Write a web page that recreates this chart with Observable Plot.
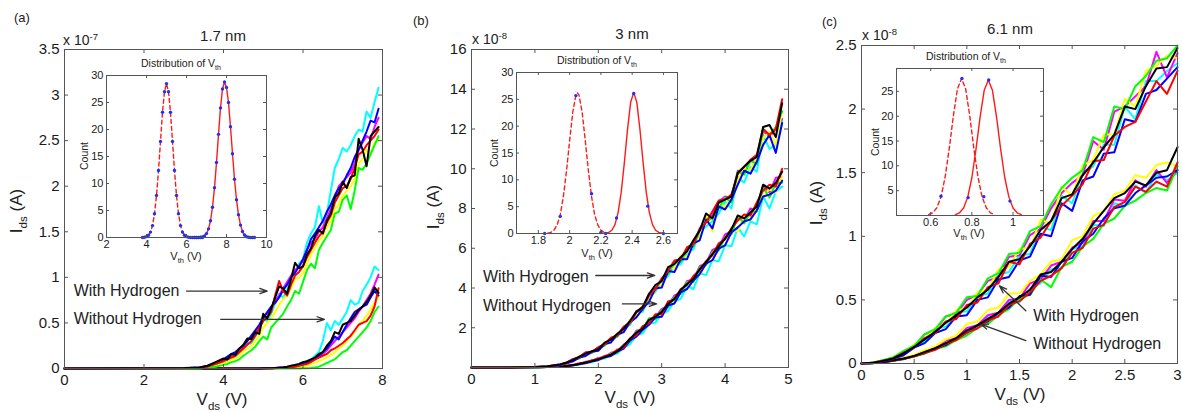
<!DOCTYPE html>
<html><head><meta charset="utf-8">
<script src="https://cdn.jsdelivr.net/npm/d3@7"></script>
<script src="https://cdn.jsdelivr.net/npm/@observablehq/plot@0.6"></script>
<style>
html,body{margin:0;padding:0;background:#fff;}
#fig{position:relative;width:1182px;height:412px;overflow:hidden;background:#fff;font-family:"Liberation Sans",Arial,Helvetica,sans-serif;color:#222;}
.lbl{position:absolute;white-space:nowrap;line-height:1;transform:translate(-50%,-50%);}
.rot{transform:translate(-50%,-50%) rotate(-90deg);}
.lft{transform:translate(0,-50%);}
.sb{font-size:0.68em;position:relative;top:0.4em;}
.sp{font-size:0.68em;position:relative;top:-0.55em;}
</style></head><body><div id="fig"></div>
<script>
// ---------- Panel (a) 1.7 nm, values in units of 1e-7 A ----------
const xA = [0, 3.0, 3.4, 3.6, 3.8, 4.0, 4.1, 4.2, 4.3, 4.4, 4.5, 4.6, 4.7, 4.8, 4.9, 5.0, 5.1, 5.2, 5.3, 5.4, 5.5, 5.6, 5.7, 5.8, 5.9, 6.0, 6.1, 6.2, 6.3, 6.4, 6.5, 6.6, 6.7, 6.8, 6.9, 7.0, 7.1, 7.2, 7.3, 7.4, 7.5, 7.6, 7.7, 7.8, 7.9];
const aWith = {
  cyan:    [0, 0.003, 0.01, 0.02, 0.05, 0.08,0.09,0.12,0.13,0.16,0.22,0.28,0.27,0.35,0.42, 0.55,0.52,0.60,0.72,0.82,0.78,0.86,1.00,1.05,1.15, 1.20,1.38,1.48,1.55,1.78,1.60,1.70,1.95,2.20,2.30, 2.42,2.38,2.45,2.55,2.62,2.60,2.82,2.75,2.92,3.08],
  magenta: [0, 0.004, 0.01, 0.02, 0.06, 0.09,0.11,0.13,0.17,0.20,0.25,0.32,0.34,0.40,0.46, 0.58,0.60,0.66,0.75,0.80,0.88,0.95,1.02,1.08,1.12, 1.18,1.30,1.38,1.42,1.50,1.55,1.65,1.75,1.85,2.00, 2.05,2.10,2.15,2.25,2.40,2.48,2.55,2.52,2.65,2.75],
  yellow:  [0, 0.002, 0.006, 0.015, 0.04, 0.06,0.07,0.10,0.11,0.14,0.19,0.22,0.25,0.30,0.36, 0.45,0.50,0.55,0.62,0.70,0.76,0.80,0.88,0.98,1.00, 1.05,1.15,1.25,1.32,1.40,1.45,1.55,1.62,1.75,1.80, 1.90,1.95,2.00,2.08,2.25,2.30,2.40,2.35,2.48,2.50],
  green:   [0, 0, 0, 0.01, 0.02, 0.04,0.05,0.07,0.08,0.10,0.14,0.17,0.20,0.24,0.30, 0.35,0.32,0.45,0.50,0.55,0.60,0.68,0.75,0.85,0.82, 0.95,1.08,1.15,1.10,1.30,1.38,1.45,1.52,1.70,1.72, 1.85,1.90,1.75,1.95,2.20,2.18,2.25,2.35,2.45,2.55],
  blue:    [0, 0.004, 0.01, 0.03, 0.06, 0.10,0.13,0.16,0.18,0.22,0.25,0.30,0.36,0.42,0.48, 0.55,0.62,0.68,0.72,0.78,0.86,0.92,1.00,1.05,1.12, 1.20,1.30,1.42,1.48,1.55,1.62,1.72,1.80,1.90,1.98, 2.02,2.12,2.20,2.32,2.40,2.50,2.60,2.72,2.70,2.85],
  red:     [0, 0.003, 0.008, 0.02, 0.05, 0.08,0.10,0.12,0.14,0.18,0.22,0.26,0.30,0.36,0.45, 0.52,0.56,0.62,0.80,0.96,0.85,0.80,0.92,1.02,1.06, 1.12,1.22,1.30,1.38,1.45,1.50,1.60,1.68,1.82,1.90, 1.98,2.00,2.08,2.20,2.35,2.38,2.45,2.50,2.55,2.62],
  black:   [0, 0.005, 0.01, 0.03, 0.07, 0.11,0.10,0.16,0.15,0.22,0.26,0.33,0.32,0.40,0.38, 0.60,0.55,0.66,0.78,0.90,0.88,0.82,0.98,1.16,1.10, 1.12,1.25,1.32,1.45,1.52,1.48,1.62,1.70,1.88,1.92, 2.05,1.98,2.10,2.12,2.52,2.40,2.22,2.55,2.60,2.65]
};
const aWithout = {
  cyan:    [0,0,0,0,0, 0,0,0,0,0,0,0,0,0,0, 0.002, 0.003,0.005,0.007,0.01,0.015,0.02,0.03,0.04,0.05,0.06, 0.08,0.10,0.14,0.18,0.30,0.50,0.42,0.52,0.48,0.55, 0.62,0.75,0.70,0.72,0.85,0.92,1.00,1.12,1.08],
  magenta: [0,0,0,0,0, 0,0,0,0,0,0,0,0,0,0, 0.001, 0.002,0.004,0.006,0.01,0.012,0.015,0.018,0.02,0.03,0.04, 0.06,0.08,0.10,0.13,0.16,0.20,0.25,0.30,0.35,0.40, 0.45,0.50,0.55,0.62,0.68,0.75,0.82,0.92,1.03],
  yellow:  [0,0,0,0,0, 0,0,0,0,0,0,0,0,0,0, 0, 0.001,0.002,0.003,0.004,0.006,0.008,0.01,0.012,0.015,0.02, 0.03,0.05,0.06,0.08,0.10,0.12,0.15,0.18,0.22,0.25, 0.30,0.35,0.40,0.48,0.52,0.58,0.65,0.72,0.78],
  green:   [0,0,0,0,0, 0,0,0,0,0,0,0,0,0,0, 0, 0,0,0,0,0,0,0,0,0.001,0.002, 0.003,0.005,0.01,0.02,0.04,0.06,0.08,0.10,0.14,0.18, 0.20,0.25,0.30,0.35,0.40,0.45,0.52,0.62,0.68],
  blue:    [0,0,0,0,0, 0,0,0,0,0,0,0,0,0,0, 0.001, 0.002,0.004,0.006,0.008,0.01,0.015,0.02,0.03,0.04,0.05, 0.06,0.08,0.10,0.14,0.18,0.22,0.28,0.35,0.32,0.40, 0.48,0.55,0.62,0.65,0.68,0.70,0.78,0.85,0.80],
  red:     [0,0,0,0,0, 0,0,0,0,0,0,0,0,0,0, 0.001, 0.002,0.003,0.004,0.006,0.008,0.01,0.015,0.02,0.03,0.04, 0.05,0.07,0.10,0.12,0.14,0.16,0.20,0.22,0.25,0.28, 0.32,0.36,0.42,0.48,0.50,0.52,0.58,0.68,0.88],
  black:   [0,0,0,0,0, 0,0,0,0,0,0,0,0,0,0, 0.002, 0.003,0.004,0.006,0.008,0.012,0.02,0.03,0.04,0.05,0.07, 0.08,0.10,0.12,0.16,0.18,0.25,0.30,0.40,0.38,0.48, 0.50,0.52,0.58,0.64,0.68,0.73,0.80,0.89,0.83]
};
const xTicksA = [0, 2, 4, 6, 8];
const yTicksA = [0, 0.5, 1, 1.5, 2, 2.5, 3, 3.5];
const notesA = [{label: "With Hydrogen", x: 0.23, y: 0.855}, {label: "Without Hydrogen", x: 0.23, y: 0.545}];
const arrowsA = [{x1: 3.07, y1: 0.85, x2: 5.1, y2: 0.85}, {x1: 3.93, y1: 0.54, x2: 6.54, y2: 0.54}];

// ---------- Panel (b) 3 nm, values in units of 1e-8 A ----------
const xB = [0, 0.6, 1.0, 1.2, 1.4, 1.5, 1.6, 1.7, 1.8, 1.9, 2.0, 2.1, 2.2, 2.3, 2.4, 2.5, 2.6, 2.7, 2.8, 2.9, 3.0, 3.1, 3.2, 3.3, 3.4, 3.5, 3.6, 3.7, 3.8, 3.9, 4.0, 4.1, 4.2, 4.3, 4.4, 4.5, 4.6, 4.7, 4.8, 4.9];
const bWith = {
  cyan:    [0, 0.001, 0.015, 0.05, 0.13, 0.22, 0.38, 0.46, 0.66, 0.74, 0.95, 1.10, 1.42, 1.55, 1.98, 2.15, 2.75, 2.80, 3.55, 3.80, 4.35, 4.60, 5.15, 5.20, 5.75, 5.95, 6.80, 7.10, 7.35, 7.75, 8.35, 8.00, 9.60, 9.30, 10.10, 9.85, 11.70, 11.00, 11.20, 12.40],
  magenta: [0, 0.002, 0.02, 0.06, 0.16, 0.24, 0.42, 0.52, 0.76, 0.80, 1.00, 1.18, 1.48, 1.62, 2.05, 2.25, 2.85, 2.92, 3.72, 3.95, 4.45, 4.82, 5.32, 5.40, 5.95, 6.20, 7.00, 7.40, 7.65, 8.35, 8.60, 8.50, 9.90, 9.75, 10.45, 10.30, 11.90, 11.60, 12.00, 12.50],
  yellow:  [0, 0.002, 0.018, 0.05, 0.13, 0.25, 0.35, 0.55, 0.64, 0.84, 0.90, 1.25, 1.35, 1.72, 1.88, 2.38, 2.62, 3.10, 3.45, 4.15, 4.15, 5.00, 5.00, 5.65, 5.55, 6.35, 6.55, 7.65, 6.85, 8.35, 8.05, 8.60, 9.45, 10.00, 9.95, 10.55, 11.55, 11.85, 11.20, 12.90],
  green:   [0, 0.002, 0.015, 0.05, 0.14, 0.20, 0.39, 0.47, 0.70, 0.74, 0.99, 1.12, 1.44, 1.56, 1.99, 2.20, 2.80, 2.88, 3.62, 3.90, 4.40, 4.72, 5.28, 5.30, 5.95, 6.10, 6.90, 7.30, 7.55, 8.00, 8.55, 8.30, 9.85, 9.70, 10.40, 10.25, 12.00, 11.70, 12.10, 12.90],
  blue:    [0, 0.001, 0.015, 0.04, 0.11, 0.21, 0.31, 0.50, 0.58, 0.79, 0.84, 1.18, 1.26, 1.65, 1.78, 2.28, 2.52, 2.95, 3.30, 3.98, 4.02, 4.85, 4.80, 5.45, 5.45, 6.25, 6.40, 7.45, 7.00, 8.10, 7.95, 8.45, 9.20, 9.90, 9.75, 10.35, 11.20, 11.70, 10.80, 12.30],
  red:     [0, 0.002, 0.02, 0.05, 0.15, 0.23, 0.42, 0.50, 0.75, 0.78, 1.02, 1.16, 1.50, 1.60, 2.05, 2.25, 2.78, 3.02, 3.62, 3.95, 4.48, 4.85, 5.38, 5.45, 6.05, 6.20, 6.95, 7.30, 7.85, 8.40, 8.45, 8.70, 9.75, 10.10, 10.45, 10.70, 12.00, 11.70, 12.00, 13.50],
  black:   [0, 0.002, 0.02, 0.06, 0.15, 0.25, 0.38, 0.55, 0.70, 0.82, 0.92, 1.25, 1.40, 1.70, 1.95, 2.35, 2.80, 3.05, 3.70, 4.15, 4.35, 5.05, 5.20, 5.55, 5.85, 6.40, 6.90, 7.75, 7.50, 8.30, 8.45, 8.60, 9.80, 10.10, 10.40, 10.60, 12.10, 12.20, 11.60, 13.30]
};
const bWithout = {
  cyan:    [0, 0.001, 0.008, 0.02, 0.04, 0.06, 0.12, 0.14, 0.24, 0.26, 0.40, 0.45, 0.64, 0.70, 1.00, 1.18, 1.62, 1.72, 2.22, 2.25, 2.70, 2.85, 3.32, 3.45, 4.10, 3.95, 4.75, 4.65, 5.40, 5.35, 6.15, 6.10, 7.05, 6.60, 7.35, 7.20, 8.60, 8.00, 8.85, 9.10],
  magenta: [0, 0.001, 0.01, 0.02, 0.06, 0.08, 0.14, 0.18, 0.29, 0.33, 0.48, 0.52, 0.74, 0.82, 1.15, 1.35, 1.85, 1.92, 2.45, 2.52, 2.95, 3.08, 3.62, 3.78, 4.35, 4.42, 5.10, 5.25, 5.92, 6.05, 6.70, 6.85, 7.55, 7.40, 8.00, 7.90, 9.15, 8.80, 9.55, 9.60],
  yellow:  [0, 0.001, 0.009, 0.02, 0.05, 0.09, 0.11, 0.19, 0.22, 0.34, 0.38, 0.56, 0.60, 0.86, 0.98, 1.42, 1.58, 2.02, 2.18, 2.62, 2.58, 3.22, 3.25, 3.90, 3.95, 4.45, 4.65, 5.38, 5.35, 6.15, 6.10, 7.00, 6.85, 7.55, 7.40, 8.10, 8.55, 9.00, 8.80, 9.60],
  green:   [0, 0.001, 0.008, 0.02, 0.05, 0.07, 0.13, 0.17, 0.27, 0.31, 0.45, 0.50, 0.70, 0.76, 1.12, 1.30, 1.80, 1.88, 2.48, 2.42, 2.88, 3.05, 3.55, 3.70, 4.30, 4.30, 5.05, 5.15, 5.80, 5.90, 6.55, 6.70, 7.60, 7.25, 7.85, 7.85, 9.05, 8.55, 9.25, 9.30],
  blue:    [0, 0.001, 0.008, 0.02, 0.04, 0.07, 0.10, 0.17, 0.21, 0.31, 0.37, 0.52, 0.58, 0.80, 0.95, 1.36, 1.55, 1.90, 2.15, 2.52, 2.55, 3.12, 3.22, 3.78, 3.95, 4.38, 4.70, 5.22, 5.40, 5.98, 6.15, 6.80, 7.05, 7.35, 7.45, 7.90, 8.60, 8.70, 8.90, 9.40],
  red:     [0, 0.001, 0.01, 0.02, 0.05, 0.09, 0.12, 0.21, 0.24, 0.37, 0.41, 0.58, 0.64, 0.90, 1.00, 1.46, 1.62, 2.08, 2.22, 2.68, 2.68, 3.32, 3.42, 3.95, 4.15, 4.60, 4.90, 5.35, 5.65, 6.25, 6.45, 7.00, 7.40, 7.70, 7.65, 8.30, 8.90, 9.20, 9.10, 10.00],
  black:   [0, 0.001, 0.01, 0.02, 0.05, 0.08, 0.12, 0.18, 0.25, 0.32, 0.42, 0.52, 0.65, 0.82, 1.10, 1.45, 1.75, 1.95, 2.40, 2.55, 2.80, 3.20, 3.45, 3.90, 4.20, 4.45, 4.95, 5.30, 5.70, 6.10, 6.50, 6.95, 7.65, 7.50, 7.80, 8.10, 9.20, 9.00, 9.30, 9.85]
};
const xTicksB = [0, 1, 2, 3, 4, 5];
const yTicksB = [2, 4, 6, 8, 10, 12, 14, 16];
const notesB = [{label: "With Hydrogen", x: 0.18, y: 4.58}, {label: "Without Hydrogen", x: 0.18, y: 3.12}];
const arrowsB = [{x1: 1.96, y1: 4.63, x2: 2.89, y2: 4.63}, {x1: 2.38, y1: 3.2, x2: 2.92, y2: 3.2}];

// ---------- Panel (c) 6.1 nm, values in units of 1e-8 A ----------
const xC = [0, 0.1, 0.2, 0.3, 0.4, 0.5, 0.6, 0.7, 0.8, 0.9, 1.0, 1.1, 1.2, 1.3, 1.4, 1.5, 1.6, 1.7, 1.8, 1.9, 2.0, 2.1, 2.2, 2.3, 2.4, 2.5, 2.6, 2.7, 2.8, 2.9, 3.0];
const cWith = {
  cyan:    [0, 0.004, 0.018, 0.045, 0.075, 0.14, 0.17, 0.27, 0.29, 0.40, 0.41, 0.53, 0.55, 0.70, 0.72, 0.85, 0.86, 1.07, 1.05, 1.32, 1.26, 1.50, 1.55, 1.72, 1.72, 2.02, 1.92, 2.22, 2.22, 2.30, 2.36],
  magenta: [0, 0.005, 0.024, 0.043, 0.095, 0.13, 0.23, 0.26, 0.37, 0.39, 0.50, 0.54, 0.65, 0.68, 0.84, 0.85, 1.01, 1.06, 1.22, 1.34, 1.42, 1.48, 1.75, 1.68, 1.98, 2.02, 2.10, 2.18, 2.45, 2.25, 2.44],
  yellow:  [0, 0.005, 0.02, 0.05, 0.08, 0.15, 0.19, 0.28, 0.31, 0.42, 0.43, 0.56, 0.58, 0.74, 0.76, 0.90, 0.91, 1.13, 1.10, 1.39, 1.32, 1.56, 1.60, 1.80, 1.80, 2.08, 2.02, 2.30, 2.34, 2.42, 2.40],
  green:   [0, 0.006, 0.026, 0.048, 0.10, 0.14, 0.23, 0.27, 0.37, 0.40, 0.52, 0.53, 0.67, 0.71, 0.86, 0.87, 1.04, 1.08, 1.25, 1.38, 1.46, 1.52, 1.78, 1.74, 2.02, 2.00, 2.18, 2.26, 2.38, 2.40, 2.50],
  blue:    [0, 0.003, 0.014, 0.036, 0.065, 0.125, 0.16, 0.24, 0.27, 0.37, 0.38, 0.50, 0.52, 0.66, 0.68, 0.81, 0.84, 1.02, 1.00, 1.26, 1.20, 1.44, 1.47, 1.65, 1.66, 1.92, 1.90, 2.12, 2.15, 2.24, 2.33],
  red:     [0, 0.004, 0.019, 0.038, 0.085, 0.125, 0.20, 0.24, 0.33, 0.35, 0.46, 0.48, 0.60, 0.63, 0.80, 0.78, 0.94, 0.99, 1.12, 1.24, 1.32, 1.41, 1.59, 1.60, 1.79, 1.86, 1.90, 2.06, 2.22, 2.12, 2.30],
  black:   [0, 0.005, 0.02, 0.04, 0.08, 0.13, 0.19, 0.25, 0.32, 0.38, 0.44, 0.52, 0.58, 0.68, 0.80, 0.82, 0.92, 1.05, 1.12, 1.30, 1.33, 1.48, 1.58, 1.70, 1.80, 2.02, 2.00, 2.18, 2.32, 2.33, 2.48]
};
const cWithout = {
  cyan:    [0, 0.002, 0.01, 0.02, 0.04, 0.055, 0.09, 0.115, 0.16, 0.18, 0.26, 0.28, 0.36, 0.38, 0.49, 0.48, 0.59, 0.63, 0.74, 0.75, 0.90, 0.92, 1.09, 1.08, 1.26, 1.24, 1.40, 1.34, 1.49, 1.44, 1.50],
  magenta: [0, 0.003, 0.011, 0.024, 0.042, 0.062, 0.094, 0.125, 0.18, 0.20, 0.28, 0.30, 0.38, 0.40, 0.50, 0.51, 0.63, 0.66, 0.77, 0.80, 0.91, 0.95, 1.12, 1.12, 1.29, 1.28, 1.44, 1.39, 1.52, 1.42, 1.52],
  yellow:  [0, 0.003, 0.013, 0.027, 0.048, 0.067, 0.105, 0.135, 0.19, 0.22, 0.31, 0.33, 0.42, 0.44, 0.55, 0.55, 0.65, 0.70, 0.80, 0.82, 0.97, 1.00, 1.16, 1.20, 1.33, 1.36, 1.48, 1.46, 1.56, 1.58, 1.55],
  green:   [0, 0.002, 0.008, 0.021, 0.033, 0.057, 0.077, 0.113, 0.135, 0.185, 0.22, 0.28, 0.31, 0.38, 0.43, 0.51, 0.54, 0.66, 0.60, 0.76, 0.80, 0.92, 0.98, 1.10, 1.14, 1.24, 1.28, 1.34, 1.38, 1.36, 1.55],
  blue:    [0, 0.002, 0.009, 0.023, 0.036, 0.058, 0.083, 0.118, 0.145, 0.195, 0.24, 0.30, 0.33, 0.40, 0.44, 0.53, 0.54, 0.69, 0.68, 0.80, 0.83, 0.96, 1.02, 1.14, 1.22, 1.24, 1.34, 1.40, 1.46, 1.47, 1.52],
  red:     [0, 0.002, 0.009, 0.021, 0.038, 0.054, 0.082, 0.108, 0.155, 0.185, 0.245, 0.275, 0.34, 0.37, 0.46, 0.49, 0.56, 0.65, 0.69, 0.75, 0.87, 0.91, 1.06, 1.09, 1.23, 1.27, 1.39, 1.35, 1.43, 1.39, 1.58],
  black:   [0, 0.003, 0.01, 0.025, 0.04, 0.06, 0.09, 0.12, 0.16, 0.20, 0.26, 0.30, 0.35, 0.40, 0.47, 0.52, 0.58, 0.70, 0.72, 0.80, 0.90, 0.98, 1.10, 1.20, 1.30, 1.34, 1.43, 1.40, 1.50, 1.52, 1.70]
};
const xTicksC = [0, 0.5, 1, 1.5, 2, 2.5, 3];
const yTicksC = [0, 0.5, 1, 1.5, 2, 2.5];
const notesC = [{label: "With Hydrogen", x: 1.63, y: 0.375}, {label: "Without Hydrogen", x: 1.63, y: 0.155}];
const arrowsC = [{x1: 1.56, y1: 0.415, x2: 1.31, y2: 0.61}, {x1: 1.56, y1: 0.18, x2: 1.13, y2: 0.31}];

// ---------- Insets: distribution of Vth ----------
const insAdashX = [3.8,3.9,4.0,4.1,4.2,4.3,4.4,4.5,4.6,4.7,4.8,4.9,5.0,5.1,5.2,5.3,5.4,5.5,5.6,5.7,5.8,5.9,6.0,6.1,6.2,6.3,6.4,6.5,6.6,6.7,6.8];
const insAdashY = [0.01,0.05,0.16,0.42,1.0,2.2,4.4,7.8,12.4,17.8,23.2,27.0,28.5,27.0,23.2,17.8,12.4,7.8,4.4,2.2,1.0,0.42,0.16,0.05,0.01,0,0,0,0,0,0];
const insAsolidX = [6.4,6.5,6.6,6.7,6.8,6.9,7.0,7.1,7.2,7.3,7.4,7.5,7.6,7.7,7.8,7.9,8.0,8.1,8.2,8.3,8.4,8.5,8.6,8.7,8.8,8.9,9.0,9.1,9.2,9.3,9.4];
const insAsolidY = [0,0.004,0.01,0.04,0.12,0.30,0.72,1.6,3.1,5.6,9.2,13.9,19.1,24.0,27.5,28.8,27.8,25.0,20.5,15.5,10.8,7.0,4.2,2.3,1.1,0.45,0.15,0.05,0.01,0.004,0];
const insBdashX = [1.86,1.88,1.90,1.92,1.94,1.96,1.98,2.00,2.02,2.04,2.05,2.06,2.08,2.10,2.12,2.14,2.16,2.18,2.20,2.22,2.24];
const insBdashY = [0.07,0.22,0.64,1.6,3.5,6.9,11.7,17.3,22.6,25.8,26.2,25.8,22.6,17.3,11.7,6.9,3.5,1.6,0.64,0.22,0.07];
const insBsolidX = [2.23,2.25,2.27,2.29,2.31,2.33,2.35,2.37,2.39,2.41,2.43,2.45,2.47,2.49,2.51,2.53,2.55,2.57,2.59];
const insBsolidY = [0.05,0.2,0.61,1.66,3.9,7.7,13.2,19.3,24.4,26.3,24.4,19.3,13.2,7.7,3.9,1.66,0.61,0.2,0.05];
const insBdotX = [1.84, 1.94, 2.04, 2.14, 2.20, 2.23, 2.30, 2.41, 2.50, 2.60];
const insBdotY = [0, 3.2, 25.7, 7.4, 0.2, 0, 2.9, 26.1, 5.1, 0];
const insCdashX = [0.59,0.61,0.63,0.65,0.67,0.69,0.71,0.73,0.75,0.77,0.79,0.81,0.83,0.85,0.87,0.89,0.91];
const insCdashY = [0.17,0.55,1.55,3.7,7.7,13.4,20.0,25.5,27.6,25.5,20.0,13.4,7.7,3.7,1.55,0.55,0.17];
const insCsolidX = [0.72,0.74,0.76,0.78,0.80,0.82,0.84,0.86,0.88,0.90,0.92,0.94,0.96,0.98,1.00,1.02,1.04];
const insCsolidY = [0.16,0.54,1.5,3.7,7.6,13.3,19.8,25.2,27.3,25.2,19.8,13.3,7.6,3.7,1.5,0.54,0.16];
const insCdotX = [0.65, 0.752, 0.782, 0.858, 0.882, 0.985];
const insCdotY = [3.9, 27.6, 3.6, 3.8, 27.3, 2.9];

const COLOR = {cyan: "#00ffff", magenta: "#ff00ff", yellow: "#ffff00", green: "#00ff00", blue: "#0000ff", red: "#ff0000", black: "#000000"};
const FONT = "'Liberation Sans', Arial, Helvetica, sans-serif";
const fig = document.getElementById("fig");
const pts = (xs, ys) => xs.map((x, i) => ({x, y: ys[i]}));
const fmt = d => String(d);

function place(svg, left, top) {
  svg.style.position = "absolute";
  svg.style.left = left + "px";
  svg.style.top = top + "px";
  svg.style.overflow = "visible";
  fig.appendChild(svg);
}

function inwardTicks(xt, yt, iw, ih, T, stroke) {
  return [
    Plot.tickX(xt, {x: d => d, insetTop: ih - T, stroke}),
    Plot.tickX(xt, {x: d => d, insetBottom: ih - T, stroke}),
    Plot.tickY(yt, {y: d => d, insetRight: iw - T, stroke}),
    Plot.tickY(yt, {y: d => d, insetLeft: iw - T, stroke})
  ];
}

function mainPanel(o) {
  const iw = o.width - o.ml - o.mr, ih = o.height - o.mt - o.mb;
  const lines = [];
  for (const g of [o.without, o.with]) {
    for (const k of Object.keys(g)) {
      lines.push(Plot.line(pts(o.xs, g[k]), {x: "x", y: "y", stroke: COLOR[k], strokeWidth: 2}));
    }
  }
  const svg = Plot.plot({
    width: o.width, height: o.height,
    marginLeft: o.ml, marginRight: o.mr, marginTop: o.mt, marginBottom: o.mb,
    x: {domain: o.xd, ticks: o.xt, tickSize: 0, tickPadding: 6, tickFormat: fmt, label: null},
    y: {domain: o.yd, ticks: o.yt, tickSize: 0, tickPadding: 5, tickFormat: fmt, label: null},
    style: {fontFamily: FONT, fontSize: "15px", color: "#1a1a1a", background: "transparent", overflow: "visible"},
    marks: [
      ...lines,
      Plot.frame({stroke: "#555"}),
      ...inwardTicks(o.xt, o.yt, iw, ih, 4, "#555"),
      Plot.arrow(o.arrows, {x1: "x1", y1: "y1", x2: "x2", y2: "y2", stroke: "#333", strokeWidth: 1.3, headLength: 9, headAngle: 38}),
      Plot.text(o.notes, {x: "x", y: "y", text: "label", textAnchor: "start", fontSize: 16, fill: "#222"})
    ]
  });
  place(svg, o.left, o.top);
}

function inset(o) {
  const iw = o.width - o.ml - o.mr, ih = o.height - o.mt - o.mb;
  const svg = Plot.plot({
    width: o.width, height: o.height,
    marginLeft: o.ml, marginRight: o.mr, marginTop: o.mt, marginBottom: o.mb,
    x: {domain: o.xd, ticks: o.xt, tickSize: 0, tickPadding: 3, tickFormat: fmt, label: null},
    y: {domain: o.yd, ticks: o.yt, tickSize: 0, tickPadding: 3, tickFormat: fmt, label: null},
    style: {fontFamily: FONT, fontSize: "11px", color: "#1a1a1a", background: "transparent", overflow: "visible"},
    marks: [
      Plot.frame({fill: "white", stroke: "none"}),
      Plot.line(o.dash, {x: "x", y: "y", stroke: "#ff1a1a", strokeWidth: 1.4, strokeDasharray: "4,3"}),
      Plot.line(o.solid, {x: "x", y: "y", stroke: "#ff1a1a", strokeWidth: 1.4}),
      Plot.dot(o.dots, {x: "x", y: "y", r: 1.7, fill: "#1f2fff", stroke: "none"}),
      Plot.frame({stroke: "#555"}),
      ...inwardTicks(o.xt, o.yt, iw, ih, 3, "#555")
    ]
  });
  place(svg, o.left, o.top);
}

function label(html, x, y, size, cls) {
  const d = document.createElement("div");
  d.className = "lbl" + (cls ? " " + cls : "");
  d.style.left = x + "px";
  d.style.top = y + "px";
  d.style.fontSize = size + "px";
  d.innerHTML = html;
  fig.appendChild(d);
}

mainPanel({left: 0, top: 0, width: 400, height: 412, ml: 64, mr: 18, mt: 49, mb: 44,
  xs: xA, with: aWith, without: aWithout, xd: [0, 8], yd: [0, 3.5], xt: xTicksA, yt: yTicksA, notes: notesA, arrows: arrowsA});
mainPanel({left: 400, top: 0, width: 400, height: 412, ml: 71, mr: 12, mt: 49, mb: 45,
  xs: xB, with: bWith, without: bWithout, xd: [0, 5], yd: [0, 16], xt: xTicksB, yt: yTicksB, notes: notesB, arrows: arrowsB});
mainPanel({left: 790, top: 0, width: 392, height: 412, ml: 71, mr: 5, mt: 45, mb: 49,
  xs: xC, with: cWith, without: cWithout, xd: [0, 3], yd: [0, 2.5], xt: xTicksC, yt: yTicksC, notes: notesC, arrows: arrowsC});

inset({left: 78, top: 71, width: 194, height: 186, ml: 28, mr: 6, mt: 4, mb: 20,
  xd: [2, 10], yd: [0, 30], xt: [2, 4, 6, 8, 10], yt: [0, 5, 10, 15, 20, 25, 30],
  dash: pts(insAdashX, insAdashY), solid: pts(insAsolidX, insAsolidY),
  dots: [...pts(insAdashX, insAdashY), ...pts(insAsolidX, insAsolidY)]});
inset({left: 488, top: 68, width: 195, height: 185, ml: 28, mr: 6, mt: 4, mb: 20,
  xd: [1.66, 2.69], yd: [0, 30], xt: [1.8, 2, 2.2, 2.4, 2.6], yt: [0, 5, 10, 15, 20, 25, 30],
  dash: pts(insBdashX, insBdashY), solid: pts(insBsolidX, insBsolidY), dots: pts(insBdotX, insBdotY)});
inset({left: 868, top: 64, width: 181, height: 171, ml: 28, mr: 6, mt: 4, mb: 20,
  xd: [0.434, 1.148], yd: [0, 29.6], xt: [0.6, 0.8, 1], yt: [5, 10, 15, 20, 25],
  dash: pts(insCdashX, insCdashY), solid: pts(insCsolidX, insCsolidY), dots: pts(insCdotX, insCdotY)});

// panel letters, titles, exponents, axis labels
label("(a)", 14, 17, 13, "lft");
label("(b)", 413, 20, 13, "lft");
label("(c)", 822, 21, 13, "lft");
label("1.7 nm", 223, 35, 15);
label("3 nm", 632, 33, 15);
label("6.1 nm", 1010, 28, 15);
label("x 10<span class='sp'>-7</span>", 63, 40, 14, "lft");
label("x 10<span class='sp'>-8</span>", 472, 39, 14, "lft");
label("x 10<span class='sp'>-8</span>", 862, 35, 14, "lft");
label("I<span class='sb'>ds</span> (A)", 16, 211, 17, "rot");
label("I<span class='sb'>ds</span> (A)", 433, 207, 17, "rot");
label("I<span class='sb'>ds</span> (A)", 816, 203, 17, "rot");
label("V<span class='sb'>ds</span> (V)", 222, 399, 17);
label("V<span class='sb'>ds</span> (V)", 630, 397, 17);
label("V<span class='sb'>ds</span> (V)", 1020, 394, 17);
// inset labels
label("Distribution of V<span class='sb'>th</span>", 181, 64, 10.5);
label("Distribution of V<span class='sb'>th</span>", 597, 61, 10.5);
label("Distribution of V<span class='sb'>th</span>", 966, 57, 10.5);
label("Count", 84, 156, 10.5, "rot");
label("Count", 494, 153, 10.5, "rot");
label("Count", 875, 142, 10.5, "rot");
label("V<span class='sb'>th</span> (V)", 186, 256, 11);
label("V<span class='sb'>th</span> (V)", 597, 253, 11);
label("V<span class='sb'>th</span> (V)", 969, 233, 11);
</script></body></html>
